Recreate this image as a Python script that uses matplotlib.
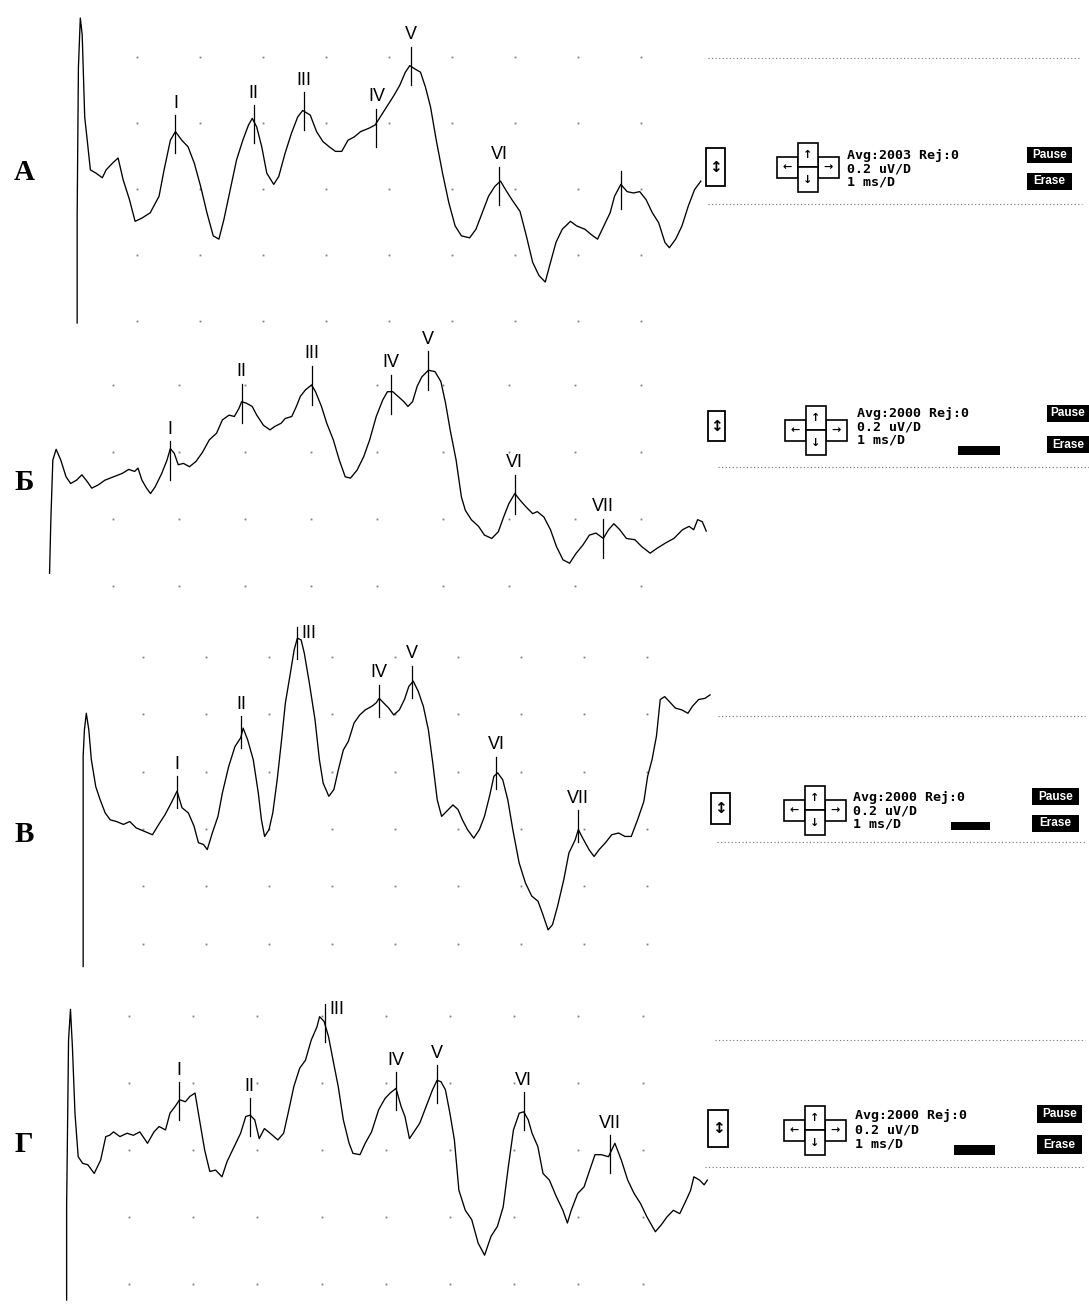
import numpy as np
import matplotlib
matplotlib.use("Agg")
import matplotlib.pyplot as plt
from matplotlib.patches import Rectangle

# ---------------- DATA (time in ms, amplitude in divisions of 0.2 uV) ----------------
panel_letters = ["А", "Б", "В", "Г"]
avg_texts = ["Avg:2003 Rej:0", "Avg:2000 Rej:0", "Avg:2000 Rej:0", "Avg:2000 Rej:0"]
scale_texts = ["0.2 uV/D", "1 ms/D"]

# Panel A
a_time = [0.05, 0.05, 0.07, 0.10, 0.13, 0.17, 0.21, 0.26, 0.35, 0.45, 0.51, 0.61, 0.70, 0.78, 0.88, 0.97,
          1.08, 1.21, 1.35, 1.43, 1.53, 1.61, 1.71, 1.81, 1.91, 2.01, 2.11, 2.21, 2.30, 2.38, 2.48, 2.58,
          2.68, 2.77, 2.83, 2.90, 2.98, 3.06, 3.17, 3.25, 3.35, 3.45, 3.55, 3.63, 3.75, 3.85, 3.95, 4.05,
          4.15, 4.25, 4.35, 4.45, 4.55, 4.68, 4.78, 4.88, 4.98, 5.08, 5.17, 5.26, 5.33, 5.41, 5.50, 5.58,
          5.66, 5.75, 5.85, 5.95, 6.05, 6.15, 6.28, 6.38, 6.48, 6.58, 6.68, 6.77, 6.85, 6.95, 7.08, 7.18,
          7.28, 7.38, 7.48, 7.55, 7.65, 7.75, 7.88, 7.98, 8.11, 8.21, 8.31, 8.41, 8.51, 8.58, 8.68, 8.78,
          8.88, 8.98, 9.08, 9.18, 9.28, 9.38, 9.45, 9.55, 9.65, 9.75, 9.85, 9.95]
a_amp = [-2.03, -0.41, 1.84, 2.59, 2.34, 1.09, 0.74, 0.29, 0.24, 0.17, 0.29, 0.39, 0.47, 0.14, -0.16, -0.49,
         -0.44, -0.36, -0.11, 0.29, 0.74, 0.87, 0.74, 0.64, 0.39, 0.04, -0.36, -0.71, -0.76, -0.46, -0.01, 0.44,
         0.74, 0.97, 1.07, 0.94, 0.64, 0.24, 0.07, 0.19, 0.54, 0.84, 1.09, 1.19, 1.12, 0.87, 0.72, 0.64,
         0.57, 0.57, 0.74, 0.79, 0.87, 0.92, 0.97, 1.12, 1.27, 1.42, 1.57, 1.77, 1.87, 1.82, 1.77, 1.54,
         1.24, 0.74, 0.24, -0.21, -0.56, -0.71, -0.74, -0.61, -0.36, -0.11, 0.04, 0.12, -0.01, -0.16, -0.34, -0.71,
         -1.11, -1.31, -1.41, -1.16, -0.81, -0.61, -0.49, -0.56, -0.61, -0.69, -0.76, -0.56, -0.36, -0.11, 0.07, -0.04,
         -0.06, -0.04, -0.16, -0.36, -0.51, -0.81, -0.89, -0.76, -0.56, -0.26, -0.01, 0.12]
a_peak_labels = ["I", "II", "III", "IV", "V", "VI", ""]
a_peak_time = [1.61, 2.85, 3.65, 4.80, 5.35, 6.75, 8.68]
a_peak_amp = [0.83, 0.98, 1.18, 0.93, 1.87, 0.05, -0.02]

# Panel Б
b_time = [0.04, 0.06, 0.09, 0.14, 0.21, 0.29, 0.36, 0.45, 0.53, 0.61, 0.68, 0.78, 0.88, 1.01, 1.14, 1.24,
          1.33, 1.38, 1.44, 1.51, 1.57, 1.64, 1.74, 1.82, 1.87, 1.93, 1.99, 2.07, 2.16, 2.26, 2.36, 2.46,
          2.57, 2.66, 2.76, 2.84, 2.91, 2.95, 3.02, 3.11, 3.18, 3.28, 3.38, 3.45, 3.55, 3.61, 3.71, 3.78,
          3.84, 3.92, 4.01, 4.07, 4.16, 4.24, 4.34, 4.43, 4.52, 4.60, 4.70, 4.80, 4.89, 4.99, 5.09, 5.16,
          5.24, 5.32, 5.41, 5.47, 5.54, 5.61, 5.68, 5.78, 5.88, 5.97, 6.04, 6.11, 6.20, 6.28, 6.34, 6.43,
          6.54, 6.63, 6.74, 6.84, 6.92, 7.00, 7.09, 7.17, 7.26, 7.36, 7.43, 7.53, 7.63, 7.72, 7.82, 7.92,
          8.02, 8.12, 8.22, 8.32, 8.43, 8.51, 8.59, 8.68, 8.78, 8.91, 9.01, 9.14, 9.24, 9.37, 9.50, 9.63,
          9.73, 9.80, 9.86, 9.93, 9.99]
b_amp = [-0.81, -0.01, 0.88, 1.04, 0.88, 0.63, 0.53, 0.58, 0.66, 0.56, 0.46, 0.51, 0.58, 0.63, 0.68, 0.74,
         0.71, 0.76, 0.58, 0.46, 0.38, 0.48, 0.68, 0.88, 1.05, 0.98, 0.81, 0.83, 0.78, 0.86, 1.00, 1.18,
         1.28, 1.48, 1.55, 1.53, 1.65, 1.75, 1.73, 1.68, 1.55, 1.40, 1.33, 1.38, 1.43, 1.50, 1.53, 1.68,
         1.83, 1.93, 2.00, 1.90, 1.68, 1.43, 1.18, 0.88, 0.63, 0.61, 0.73, 0.93, 1.18, 1.53, 1.78, 1.90,
         1.90, 1.83, 1.75, 1.68, 1.75, 1.98, 2.12, 2.22, 2.20, 2.05, 1.73, 1.33, 0.88, 0.33, 0.13, -0.01,
         -0.11, -0.24, -0.29, -0.19, 0.03, 0.23, 0.38, 0.28, 0.18, 0.08, 0.11, 0.03, -0.16, -0.41, -0.61, -0.66,
         -0.51, -0.39, -0.24, -0.21, -0.29, -0.16, -0.07, -0.16, -0.29, -0.31, -0.41, -0.51, -0.44, -0.36, -0.29, -0.16,
         -0.11, -0.16, -0.01, -0.04, -0.18]
b_peak_labels = ["I", "II", "III", "IV", "V", "VI", "VII"]
b_peak_time = [1.86, 2.95, 4.01, 5.21, 5.78, 7.09, 8.43]
b_peak_amp = [0.87, 1.73, 2.00, 1.86, 2.21, 0.37, -0.29]

# Panel В
v_time = [0.05, 0.05, 0.07, 0.10, 0.14, 0.18, 0.25, 0.32, 0.40, 0.48, 0.58, 0.69, 0.79, 0.89, 1.02, 1.15,
          1.25, 1.35, 1.46, 1.54, 1.62, 1.72, 1.81, 1.88, 1.96, 2.02, 2.10, 2.19, 2.26, 2.36, 2.46, 2.55,
          2.59, 2.66, 2.75, 2.83, 2.88, 2.93, 3.00, 3.06, 3.13, 3.20, 3.26, 3.33, 3.40, 3.45, 3.51, 3.56,
          3.64, 3.73, 3.80, 3.86, 3.95, 4.03, 4.10, 4.18, 4.26, 4.35, 4.44, 4.53, 4.63, 4.70, 4.75, 4.82,
          4.90, 4.98, 5.07, 5.15, 5.22, 5.29, 5.37, 5.45, 5.53, 5.60, 5.67, 5.74, 5.82, 5.92, 6.00, 6.07,
          6.15, 6.25, 6.34, 6.42, 6.50, 6.57, 6.63, 6.71, 6.79, 6.87, 6.97, 7.07, 7.17, 7.27, 7.34, 7.43,
          7.50, 7.58, 7.68, 7.76, 7.86, 7.91, 7.98, 8.08, 8.16, 8.24, 8.34, 8.44, 8.55, 8.65, 8.75, 8.85,
          8.95, 9.01, 9.08, 9.15, 9.21, 9.28, 9.35, 9.45, 9.55, 9.65, 9.72, 9.82, 9.92, 10.00]
v_amp = [-2.40, 1.27, 1.73, 2.02, 1.73, 1.21, 0.74, 0.51, 0.28, 0.16, 0.13, 0.08, 0.13, 0.02, -0.04, -0.10,
         0.08, 0.25, 0.48, 0.66, 0.37, 0.28, 0.05, -0.24, -0.27, -0.36, -0.07, 0.22, 0.63, 1.09, 1.44, 1.59,
         1.76, 1.56, 1.21, 0.63, 0.16, -0.13, -0.01, 0.28, 0.86, 1.56, 2.20, 2.66, 3.13, 3.33, 3.30, 3.07,
         2.55, 1.91, 1.21, 0.80, 0.57, 0.69, 1.03, 1.38, 1.53, 1.85, 1.99, 2.08, 2.14, 2.20, 2.28, 2.20,
         2.11, 1.99, 2.08, 2.26, 2.49, 2.58, 2.40, 2.14, 1.73, 1.15, 0.51, 0.22, 0.31, 0.42, 0.34, 0.16,
         -0.01, -0.16, -0.01, 0.22, 0.57, 0.92, 0.98, 0.86, 0.51, -0.01, -0.59, -0.94, -1.17, -1.26, -1.47, -1.76,
         -1.67, -1.35, -0.88, -0.42, -0.19, -0.01, -0.16, -0.36, -0.48, -0.36, -0.24, -0.10, -0.07, -0.13, -0.13, 0.16,
         0.48, 0.92, 1.21, 1.62, 2.26, 2.31, 2.23, 2.11, 2.08, 2.02, 2.14, 2.26, 2.28, 2.34]
v_peak_labels = ["I", "II", "III", "IV", "V", "VI", "VII"]
v_peak_time = [1.54, 2.56, 3.45, 4.75, 5.27, 6.61, 7.90]
v_peak_amp = [0.64, 1.69, 3.24, 2.24, 2.57, 0.98, 0.05]

# Panel Г
g_time = [0.03, 0.03, 0.06, 0.09, 0.12, 0.16, 0.21, 0.28, 0.36, 0.46, 0.56, 0.64, 0.70, 0.76, 0.86, 0.97,
          1.07, 1.17, 1.29, 1.39, 1.47, 1.57, 1.64, 1.72, 1.79, 1.88, 1.95, 2.03, 2.10, 2.18, 2.26, 2.35,
          2.45, 2.53, 2.64, 2.74, 2.82, 2.89, 2.96, 3.03, 3.11, 3.20, 3.32, 3.41, 3.48, 3.57, 3.66, 3.75,
          3.84, 3.93, 3.97, 4.04, 4.11, 4.18, 4.26, 4.34, 4.43, 4.49, 4.60, 4.68, 4.78, 4.89, 4.99, 5.07,
          5.16, 5.24, 5.30, 5.37, 5.44, 5.53, 5.63, 5.73, 5.80, 5.86, 5.93, 6.00, 6.07, 6.14, 6.24, 6.34,
          6.44, 6.54, 6.64, 6.74, 6.83, 6.91, 6.99, 7.08, 7.15, 7.22, 7.28, 7.37, 7.45, 7.55, 7.66, 7.76,
          7.83, 7.89, 7.99, 8.09, 8.16, 8.26, 8.36, 8.47, 8.57, 8.67, 8.77, 8.87, 8.97, 9.07, 9.20, 9.29,
          9.38, 9.48, 9.58, 9.68, 9.75, 9.80, 9.89, 9.96, 10.01]
g_amp = [-2.24, -0.85, 1.64, 2.10, 1.54, 0.55, -0.10, -0.20, -0.22, -0.35, -0.15, 0.20, 0.22, 0.27, 0.20, 0.25,
         0.22, 0.27, 0.10, 0.27, 0.35, 0.30, 0.55, 0.65, 0.75, 0.72, 0.80, 0.85, 0.45, 0.00, -0.32, -0.30,
         -0.40, -0.17, 0.05, 0.25, 0.50, 0.52, 0.45, 0.17, 0.32, 0.25, 0.15, 0.25, 0.55, 0.95, 1.22, 1.34,
         1.64, 1.84, 1.99, 1.92, 1.69, 1.34, 0.95, 0.45, 0.10, -0.05, -0.07, 0.10, 0.27, 0.60, 0.77, 0.85,
         0.92, 0.65, 0.50, 0.17, 0.27, 0.40, 0.65, 0.90, 1.04, 1.02, 0.90, 0.55, 0.15, -0.60, -0.90, -1.04,
         -1.39, -1.57, -1.29, -1.14, -0.85, -0.25, 0.30, 0.55, 0.57, 0.45, 0.25, 0.05, -0.35, -0.45, -0.70, -0.90,
         -1.09, -0.90, -0.65, -0.55, -0.35, -0.07, -0.07, -0.10, 0.10, -0.15, -0.45, -0.65, -0.80, -1.00, -1.22, -1.12,
         -1.00, -0.90, -0.95, -0.75, -0.60, -0.40, -0.45, -0.52, -0.45]
g_peak_labels = ["I", "II", "III", "IV", "V", "VI", "VII"]
g_peak_time = [1.78, 2.88, 4.05, 5.16, 5.80, 7.15, 8.50]
g_peak_amp = [0.73, 0.49, 1.90, 0.88, 0.98, 0.58, -0.06]

grid_times = [1, 2, 3, 4, 5, 6, 7, 8, 9]

# ---------------- LAYOUT ----------------
W, H = 1089, 1305
fig = plt.figure(figsize=(W / 100, H / 100), dpi=100)
fig.patch.set_facecolor("white")

ov = fig.add_axes([0, 0, 1, 1])
ov.set_xlim(0, W)
ov.set_ylim(H, 0)
ov.axis("off")

LABEL_FONT = ["Liberation Sans Narrow", "Liberation Sans", "DejaVu Sans"]


def make_panel(x0, sx, y0, sy, tlim, alim):
    left = x0 + tlim[0] * sx
    right = x0 + tlim[1] * sx
    top = y0 - alim[1] * sy
    bottom = y0 - alim[0] * sy
    ax = fig.add_axes([left / W, 1 - bottom / H, (right - left) / W, (bottom - top) / H])
    ax.set_xlim(tlim)
    ax.set_ylim(alim)
    ax.axis("off")
    ax.patch.set_visible(False)
    return ax


panels = [
    dict(x0=74, sx=63, y0=189, sy=66, alim=(-2.6, 2.9), rows=[-2, -1, 0, 1, 2], mark_px=38,
         time=a_time, amp=a_amp, labels=a_peak_labels, ptime=a_peak_time, pamp=a_peak_amp, right=[],
         letter_y=173),
    dict(x0=46.9, sx=66, y0=519, sy=67, alim=(-1.5, 3.0), rows=[-1, 0, 1, 2], mark_px=39,
         time=b_time, amp=b_amp, labels=b_peak_labels, ptime=b_peak_time, pamp=b_peak_amp, right=[],
         letter_y=482),
    dict(x0=80, sx=63, y0=829, sy=57.3, alim=(-2.6, 3.6), rows=[-2, -1, 0, 1, 2, 3], mark_px=32,
         time=v_time, amp=v_amp, labels=v_peak_labels, ptime=v_peak_time, pamp=v_peak_amp, right=["III"],
         letter_y=834),
    dict(x0=64.7, sx=64.2, y0=1150, sy=67, alim=(-2.4, 2.6), rows=[-2, -1, 0, 1, 2], mark_px=38,
         time=g_time, amp=g_amp, labels=g_peak_labels, ptime=g_peak_time, pamp=g_peak_amp, right=["III"],
         letter_y=1145),
]

for i, P in enumerate(panels):
    ax = make_panel(P["x0"], P["sx"], P["y0"], P["sy"], (-0.3, 10.3), P["alim"])
    # grid dots
    gx, gy = np.meshgrid(grid_times, P["rows"])
    ax.plot(gx.ravel(), gy.ravel(), ls="none", marker="s", ms=1.3, mec="none", mfc="#808080")
    # trace
    t = np.asarray(P["time"])
    a = np.asarray(P["amp"])
    assert len(t) == len(a), (i, len(t), len(a))
    ax.plot(t, a, color="black", lw=0.95, solid_joinstyle="round", clip_on=False)
    # peak markers
    half = P["mark_px"] / 2 / P["sy"]
    for lab, pt, pa in zip(P["labels"], P["ptime"], P["pamp"]):
        ax.plot([pt, pt], [pa - half, pa + half], color="black", lw=0.9, clip_on=False)
        if not lab:
            continue
        if lab in P["right"]:
            ax.annotate(lab, xy=(pt, pa + half), xytext=(3, 2), textcoords="offset points",
                        ha="left", va="top", fontsize=13, family=LABEL_FONT, color="black")
        else:
            ax.annotate(lab, xy=(pt, pa + half), xytext=(0, 2.5), textcoords="offset points",
                        ha="center", va="bottom", fontsize=13, family=LABEL_FONT, color="black")
    # panel letter
    ov.text(24, P["letter_y"], panel_letters[i], ha="center", va="center", fontsize=21,
            fontweight="bold", family=["Liberation Serif", "DejaVu Serif"])

# ---------------- right-hand instrument widgets ----------------
widgets = [
    dict(dots=[(708, 1080, 58), (708, 1082, 204)], updown=(706, 148, 19, 38), cross=(808, 167),
         text_x=847, text_y=[155, 168.5, 182], bar=None, pause=(1027, 147, 45, 16), erase=(1027, 173, 45, 17)),
    dict(dots=[(718, 1089, 467)], updown=(708, 411, 17, 30), cross=(816, 430),
         text_x=857, text_y=[413, 426.5, 440], bar=(958, 446, 42, 9), pause=(1047, 405, 42, 17),
         erase=(1047, 436, 42, 17)),
    dict(dots=[(718, 1085, 716), (717, 1085, 842)], updown=(711, 793, 19, 31), cross=(815, 810),
         text_x=853, text_y=[797, 810.5, 824], bar=(951, 822, 39, 8), pause=(1032, 788, 47, 17),
         erase=(1032, 815, 47, 17)),
    dict(dots=[(715, 1085, 1040), (705, 1085, 1167)], updown=(708, 1110, 20, 37), cross=(815, 1130),
         text_x=855, text_y=[1116, 1130, 1144], bar=(954, 1145, 41, 10), pause=(1037, 1105, 45, 18),
         erase=(1037, 1135, 45, 19)),
]

MONO = ["DejaVu Sans Mono"]
for i, Wd in enumerate(widgets):
    for x1, x2, y in Wd["dots"]:
        ov.plot([x1, x2], [y, y], ls=(0, (1, 2.2)), lw=0.8, color="#6f6f6f")
    bx, by, bw, bh = Wd["updown"]
    ov.add_patch(Rectangle((bx, by), bw, bh, fill=False, ec="black", lw=1.3))
    ov.text(bx + bw / 2, by + bh / 2, "↕", ha="center", va="center", fontsize=11,
            fontweight="bold", family="DejaVu Sans")
    cx, cy = Wd["cross"]
    boxes = [((cx - 31, cy - 10, 21, 21), "←"), ((cx + 10, cy - 10, 21, 21), "→"),
             ((cx - 10, cy - 24, 20, 24), "↑"), ((cx - 10, cy, 20, 25), "↓")]
    for (rx, ry, rw, rh), arrow in boxes:
        ov.add_patch(Rectangle((rx, ry), rw, rh, facecolor="white", ec="black", lw=1.2))
        ov.text(rx + rw / 2, ry + rh / 2, arrow, ha="center", va="center", fontsize=8,
                fontweight="bold", family="DejaVu Sans")
    lines = [avg_texts[i]] + scale_texts
    for txt, ty in zip(lines, Wd["text_y"]):
        ov.text(Wd["text_x"], ty, txt, ha="left", va="center", fontsize=9.6, fontweight="bold",
                family=MONO, color="black")
    if Wd["bar"] is not None:
        rx, ry, rw, rh = Wd["bar"]
        ov.add_patch(Rectangle((rx, ry), rw, rh, facecolor="black", ec="none"))
    for key, word in (("pause", "Pause"), ("erase", "Erase")):
        rx, ry, rw, rh = Wd[key]
        ov.add_patch(Rectangle((rx, ry), rw, rh, facecolor="black", ec="none"))
        ov.text(rx + rw / 2, ry + rh / 2, word, ha="center", va="center", fontsize=8.5,
                fontweight="bold", family=LABEL_FONT, color="white")

fig.savefig("out.png", dpi=100, facecolor="white")
